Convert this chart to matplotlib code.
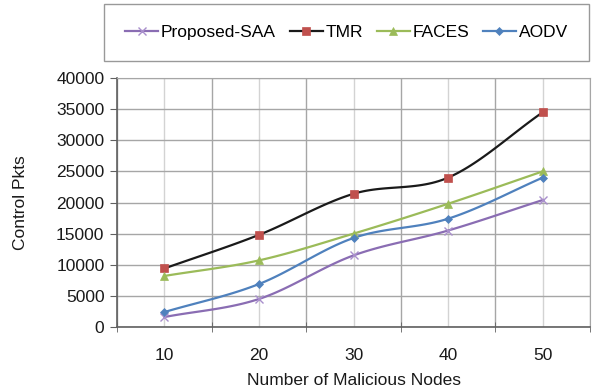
import matplotlib
matplotlib.use("Agg")
import matplotlib.pyplot as plt
from matplotlib.lines import Line2D
import numpy as np

plt.rcParams['font.family'] = ['Liberation Sans', 'DejaVu Sans']

# data
nodes = ['10', '20', '30', '40', '50']
saa = [1600, 4500, 11500, 15500, 20400]
tmr = [9400, 14800, 21400, 24000, 34500]
faces = [8200, 10700, 15000, 19800, 25000]
aodv = [2400, 6900, 14300, 17400, 24000]

series = [
    ('Proposed-SAA', saa, '#8a6db3', '#a98fcc', 'x', 6),
    ('TMR', tmr, '#1a1a1a', '#c0504d', 's', 6),
    ('FACES', faces, '#9bbb59', '#9bbb59', '^', 6),
    ('AODV', aodv, '#4f81bd', '#4f81bd', 'D', 4.5),
]


def smooth(x, y, n=30):
    # catmull-rom style smoothing like excel's smoothed lines
    x = np.asarray(x, float)
    y = np.asarray(y, float)
    px = np.concatenate([[2 * x[0] - x[1]], x, [2 * x[-1] - x[-2]]])
    py = np.concatenate([[2 * y[0] - y[1]], y, [2 * y[-1] - y[-2]]])
    xs, ys = [], []
    for i in range(1, len(px) - 2):
        t = np.linspace(0, 1, n)
        for p, out in ((px, xs), (py, ys)):
            p0, p1, p2, p3 = p[i - 1], p[i], p[i + 1], p[i + 2]
            out.extend(0.5 * (2 * p1 + (-p0 + p2) * t
                              + (2 * p0 - 5 * p1 + 4 * p2 - p3) * t ** 2
                              + (-p0 + 3 * p1 - 3 * p2 + p3) * t ** 3))
    return xs, ys


fig = plt.figure(figsize=(5.93, 3.9), dpi=100)
ax = fig.add_axes([0.1973, 0.1615, 0.7977, 0.6385])

xpos = np.arange(len(nodes))
handles = []
for name, vals, lc, mc, mk, ms in series:
    sx, sy = smooth(xpos, vals)
    ax.plot(sx, sy, color=lc, lw=1.6, zorder=3)
    mew = 1.0 if mk == 'x' else 0.5
    ax.plot(xpos, vals, ls='none', marker=mk, color=mc, ms=ms, mew=mew, zorder=4)
    handles.append(Line2D([], [], color=lc, lw=1.6, marker=mk, mfc=mc, mec=mc,
                          ms=ms, mew=mew, label=name))

ax.set_xlim(-0.5, len(nodes) - 0.5)
ax.set_ylim(0, 40000)
ax.set_yticks(np.arange(0, 40001, 5000))
ax.set_xticks(xpos)
ax.set_xticklabels(nodes)
ax.set_xticks(np.arange(-0.5, len(nodes)), minor=True)

ax.grid(True, axis='y', color='#a6a6a6', lw=1.0)
ax.grid(True, axis='x', which='minor', color='#a6a6a6', lw=1.0)
ax.grid(True, axis='x', which='major', color='#d3d3d3', lw=1.0)
ax.set_axisbelow(True)

fs = 12.5
ax.tick_params(axis='x', which='major', length=0, pad=15, labelsize=fs, colors='#1a1a1a')
ax.tick_params(axis='x', which='minor', length=7, direction='inout', color='#606060')
ax.tick_params(axis='y', length=5, color='#606060', labelsize=fs, colors='#1a1a1a', pad=4)
for s in ('top', 'right'):
    ax.spines[s].set_color('#a6a6a6')
for s in ('left', 'bottom'):
    ax.spines[s].set_color('#606060')
    ax.spines[s].set_linewidth(1.2)

ax.set_xlabel('Number of Malicious Nodes', fontsize=fs, color='#1a1a1a', labelpad=7)
ax.set_ylabel('Control Pkts', fontsize=fs, color='#1a1a1a', labelpad=20)

leg = fig.legend(handles=handles, ncol=4, loc='center',
                 bbox_to_anchor=(0.5843, 0.9167), fontsize=fs,
                 frameon=True, fancybox=False, handlelength=1.9,
                 handletextpad=0.15, columnspacing=0.8, borderpad=1.2,
                 borderaxespad=0)
leg.get_frame().set_edgecolor('#808080')
leg.get_frame().set_linewidth(1.0)

fig.savefig('out.png', dpi=100)
